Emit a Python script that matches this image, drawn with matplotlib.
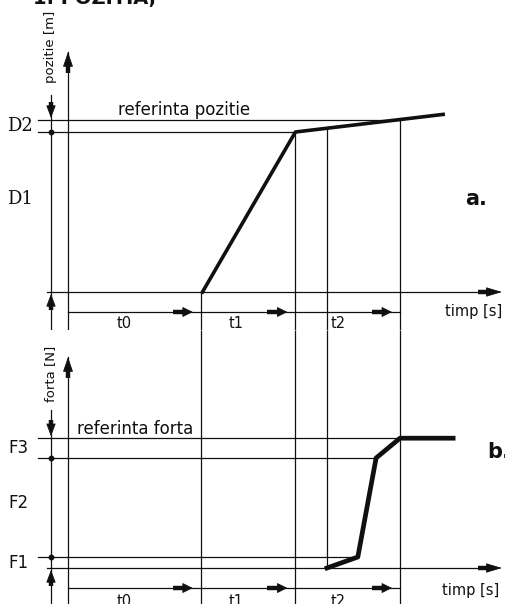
import numpy as np
import matplotlib
matplotlib.use('Agg')
import matplotlib.pyplot as plt

# time marks on the common time axis [s]
phase_ends = [4.0, 6.85, 10.0]        # end of t0, t1, t2
phase_names = ['t0', 't1', 't2']
phase_label_t = [1.7, 5.05, 8.15]
t_contact = 7.8                       # force starts to build up

# a. position profile
pos_t = [4.05, 6.85, 11.3]
pos_val = [0.0, 1.0, 1.11]
pos_d1 = 1.0                          # D1
pos_ref = 1.075                       # D1 + D2, referinta pozitie

# b. force profile
force_t = [7.8, 8.73, 9.28, 10.0, 11.6]
force_val = [0.0, 0.1, 1.0, 1.18, 1.18]
force_f1 = 0.1
force_f12 = 1.0
force_ref = 1.18

INK = '#101010'
THIN = 0.9
W, H = 506, 604
SX = 33.2          # px per second
X0 = 68            # px of t = 0

fig = plt.figure(figsize=(W / 100, H / 100), dpi=100)


def make_axes(top_px, bot_px, y0_px, sy):
    ax = fig.add_axes([0, 1 - bot_px / H, 1, (bot_px - top_px) / H])
    ax.set_xlim(-X0 / SX, (W - X0) / SX)
    ax.set_ylim((y0_px - bot_px) / sy, (y0_px - top_px) / sy)
    ax.axis('off')
    return ax


def dart(ax, tip, d, stem, head, hw=3.0, lw=3.2):
    # filled arrow: thick stem + triangular head, d = unit direction in data units per px
    x, y = tip
    hx, hy = x - d[0] * head, y - d[1] * head
    sx, sy_ = x - d[0] * (head + stem), y - d[1] * (head + stem)
    ax.plot([sx, hx + d[0] * 2], [sy_, hy + d[1] * 2], color=INK, lw=lw,
            solid_capstyle='butt', clip_on=False)
    ax.annotate('', xy=(x, y), xytext=(hx, hy),
                arrowprops=dict(arrowstyle='-|>,head_length=%g,head_width=%g' % (head * 0.72, hw),
                                mutation_scale=1, lw=0.6, color=INK,
                                shrinkA=0, shrinkB=0),
                annotation_clip=False)


def frame(ax, sy, axis_top, dim_top, row_y, levels, dots, ref, ylabel, ylabel_y):
    y_lo = ax.get_ylim()[0]
    # vertical axis with arrow
    ax.plot([0, 0], [y_lo, axis_top], color=INK, lw=THIN)
    dart(ax, (0, axis_top), (0, 1 / sy), 8, 13, hw=3.2)
    # dimension line on the left
    dim_x = -17 / SX
    ax.plot([dim_x, dim_x], [y_lo, dim_top], color=INK, lw=THIN)
    dart(ax, (dim_x, ref + 2 / sy), (0, -1 / sy), 5, 11, hw=3.0)
    dart(ax, (dim_x, -2 / sy), (0, 1 / sy), 5, 11, hw=3.0)
    ax.plot([dim_x] * len(dots), dots, 'o', color=INK, ms=3.2)
    ax.text(dim_x, ylabel_y, ylabel, rotation=90, ha='center', va='center',
            fontsize=9.5, color=INK)
    # horizontal level lines
    for lev, t_end in levels:
        ax.plot([-30 / SX, t_end], [lev, lev], color=INK, lw=THIN)
    # time axis
    t_tip = (502 - X0) / SX
    ax.plot([-21 / SX, t_tip - 10 / SX], [0, 0], color=INK, lw=THIN)
    dart(ax, (t_tip, 0), (1 / SX, 0), 10, 14, hw=3.0)
    # phase durations row
    ax.plot([0, phase_ends[-1]], [row_y, row_y], color=INK, lw=THIN)
    for te in phase_ends:
        dart(ax, (te - 8 / SX, row_y), (1 / SX, 0), 11, 9, hw=3.2)


# ---------- a. position ----------
ax_a = make_axes(0, 330, 292, 160)
frame(ax_a, 160, 1.5, 1.23, -0.125,
      [(pos_d1, pos_t[1]), (pos_ref, phase_ends[2])],
      [pos_d1], pos_ref, 'pozitie [m]', 1.53)

ylo_a = ax_a.get_ylim()[0]
pos_at_contact = np.interp(t_contact, pos_t, pos_val)
ax_a.vlines([phase_ends[0], phase_ends[1], t_contact, phase_ends[2]],
            ylo_a, [0, pos_d1, pos_at_contact, pos_ref], color=INK, lw=THIN)
ax_a.plot(pos_t, pos_val, color=INK, lw=2.6, solid_joinstyle='round')

ax_a.text(1.5, 1.1375, 'referinta pozitie', fontsize=12, va='center', color=INK)
ax_a.text(-1.84, (pos_d1 + pos_ref) / 2, 'D2', family='DejaVu Serif', fontsize=13,
          va='center', color=INK)
ax_a.text(-1.84, 0.58, 'D1', family='DejaVu Serif', fontsize=13, va='center', color=INK)
ax_a.text(11.96, 0.58, 'a.', fontsize=15, fontweight='bold', va='center', color=INK)
ax_a.text(11.36, -0.119, 'timp [s]', fontsize=10.5, va='center', color=INK)
for t, name in zip(phase_label_t, phase_names):
    ax_a.text(t, -0.2, name, fontsize=10.5, ha='center', va='center', color=INK)

# ---------- b. force ----------
ax_b = make_axes(330, 604, 568, 110)
frame(ax_b, 110, 1.918, 1.436, -0.182,
      [(force_f1, force_t[1]), (force_f12, force_t[2]), (force_ref, phase_ends[2])],
      [force_f1, force_f12], force_ref, 'forta [N]', 1.764)

ylo_b, yhi_b = ax_b.get_ylim()
ax_b.vlines([phase_ends[0], phase_ends[1], phase_ends[2]], ylo_b, yhi_b,
            color=INK, lw=THIN)
ax_b.vlines(t_contact, 0, yhi_b, color=INK, lw=THIN)
ax_b.plot(force_t, force_val, color=INK, lw=3.4, solid_joinstyle='round')

ax_b.text(0.27, 1.2636, 'referinta forta', fontsize=12, va='center', color=INK)
ax_b.text(-1.81, 1.09, 'F3', fontsize=12, va='center', color=INK)
ax_b.text(-1.81, 0.59, 'F2', fontsize=12, va='center', color=INK)
ax_b.text(-1.81, 0.045, 'F1', fontsize=12, va='center', color=INK)
ax_b.text(12.62, 1.05, 'b.', fontsize=15, fontweight='bold', va='center', color=INK)
ax_b.text(11.27, -0.2, 'timp [s]', fontsize=10.5, va='center', color=INK)
for t, name in zip(phase_label_t, phase_names):
    ax_b.text(t, -0.3, name, fontsize=10.5, ha='center', va='center', color=INK)

fig.text(33 / W, 1 - 4 / H, '1. POZITIA,', fontsize=14, fontweight='bold',
         va='baseline', color=INK)

fig.savefig('out.png', dpi=100, facecolor='white')
